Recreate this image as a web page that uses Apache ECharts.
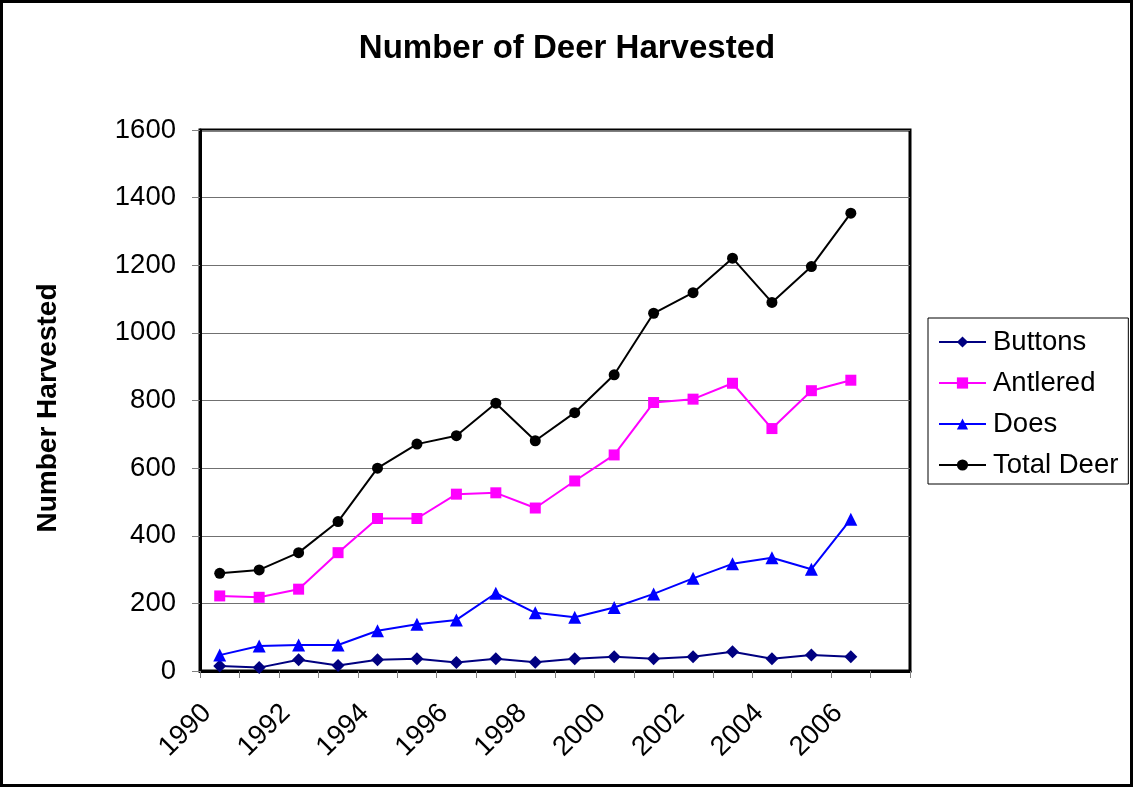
<!DOCTYPE html>
<html>
<head>
<meta charset="utf-8">
<script src="https://cdn.jsdelivr.net/npm/echarts@6/dist/echarts.min.js"></script>
<style>
html,body{margin:0;padding:0;background:#fff;}
#chart{width:1134px;height:788px;}
</style>
</head>
<body>
<div id="chart"></div>
<script>
const years = ['1990','1991','1992','1993','1994','1995','1996','1997','1998','1999','2000','2001','2002','2003','2004','2005','2006',''];
const buttons = [15,10,33,16,33,36,25,36,26,36,42,36,42,57,36,47,42];
const antlered = [222,218,242,350,451,451,523,527,482,562,639,794,804,851,717,829,860];
const does = [47,74,77,77,119,138,151,230,172,159,188,228,274,317,335,301,449];
const totalDeer = [289,299,350,442,600,671,696,792,681,764,876,1058,1119,1221,1090,1196,1354];
const yTicks = [0,200,400,600,800,1000,1200,1400,1600];

const FONT = '"Liberation Sans", Arial, sans-serif';
const chart = echarts.init(document.getElementById('chart'));

function mk(name, data, color, symbol, size) {
  return {
    name: name, type: 'line', data: data,
    symbol: symbol, symbolSize: size,
    lineStyle: {color: color, width: 2},
    itemStyle: {color: color, borderWidth: 0},
    emphasis: {disabled: true},
    animation: false
  };
}

chart.setOption({
  backgroundColor: '#fff',
  animation: false,
  title: {
    text: 'Number of Deer Harvested',
    left: 'center', top: 27,
    textStyle: {fontFamily: FONT, fontSize: 33, fontWeight: 'bold', color: '#000'}
  },
  graphic: [
    {type: 'rect', shape: {x: 1.5, y: 1.5, width: 1130, height: 784},
     style: {fill: null, stroke: '#000', lineWidth: 3}, silent: true},
    {type: 'text', x: 48, y: 408, rotation: Math.PI / 2,
     style: {text: 'Number Harvested', font: 'bold 28px ' + FONT, fill: '#000',
             textAlign: 'center', textVerticalAlign: 'middle'}}
  ],
  legend: {
    orient: 'vertical',
    left: 928, top: 318,
    itemWidth: 47, itemHeight: 14,
    itemGap: 13,
    padding: [10, 10, 5, 10],
    borderColor: '#000', borderWidth: 1,
    textStyle: {fontFamily: FONT, fontSize: 27.5, color: '#000', padding: [0, 0, 0, 2]},
    data: ['Buttons', 'Antlered', 'Does', 'Total Deer']
  },
  grid: {
    left: 200, right: 224, top: 130, bottom: 117,
    show: true, borderColor: '#000', borderWidth: 3, backgroundColor: '#fff'
  },
  xAxis: {
    type: 'category', data: years, boundaryGap: true,
    axisLine: {lineStyle: {color: '#000', width: 3}},
    axisTick: {show: true, interval: 0, length: 7, lineStyle: {color: '#808080', width: 1}},
    axisLabel: {interval: 1, rotate: 45, margin: 25, padding: [0, 18, 0, 0],
                fontFamily: FONT, fontSize: 27.5, color: '#000'},
    splitLine: {show: false}
  },
  yAxis: {
    type: 'value', min: yTicks[0], max: yTicks[yTicks.length - 1], interval: 200,
    axisLine: {show: true, lineStyle: {color: '#000', width: 3}},
    axisTick: {show: true, length: 8, lineStyle: {color: '#808080', width: 1}},
    axisLabel: {margin: 24, fontFamily: FONT, fontSize: 27.5, color: '#000',
                formatter: function (v) { return String(v); }},
    splitLine: {show: true, lineStyle: {color: '#707070', width: 1}}
  },
  series: [
    mk('Buttons', buttons, '#000080', 'diamond', 13),
    mk('Antlered', antlered, '#FF00FF', 'rect', 11),
    mk('Does', does, '#0000FF', 'triangle', 13),
    mk('Total Deer', totalDeer, '#000000', 'circle', 11)
  ]
});
</script>
</body>
</html>
